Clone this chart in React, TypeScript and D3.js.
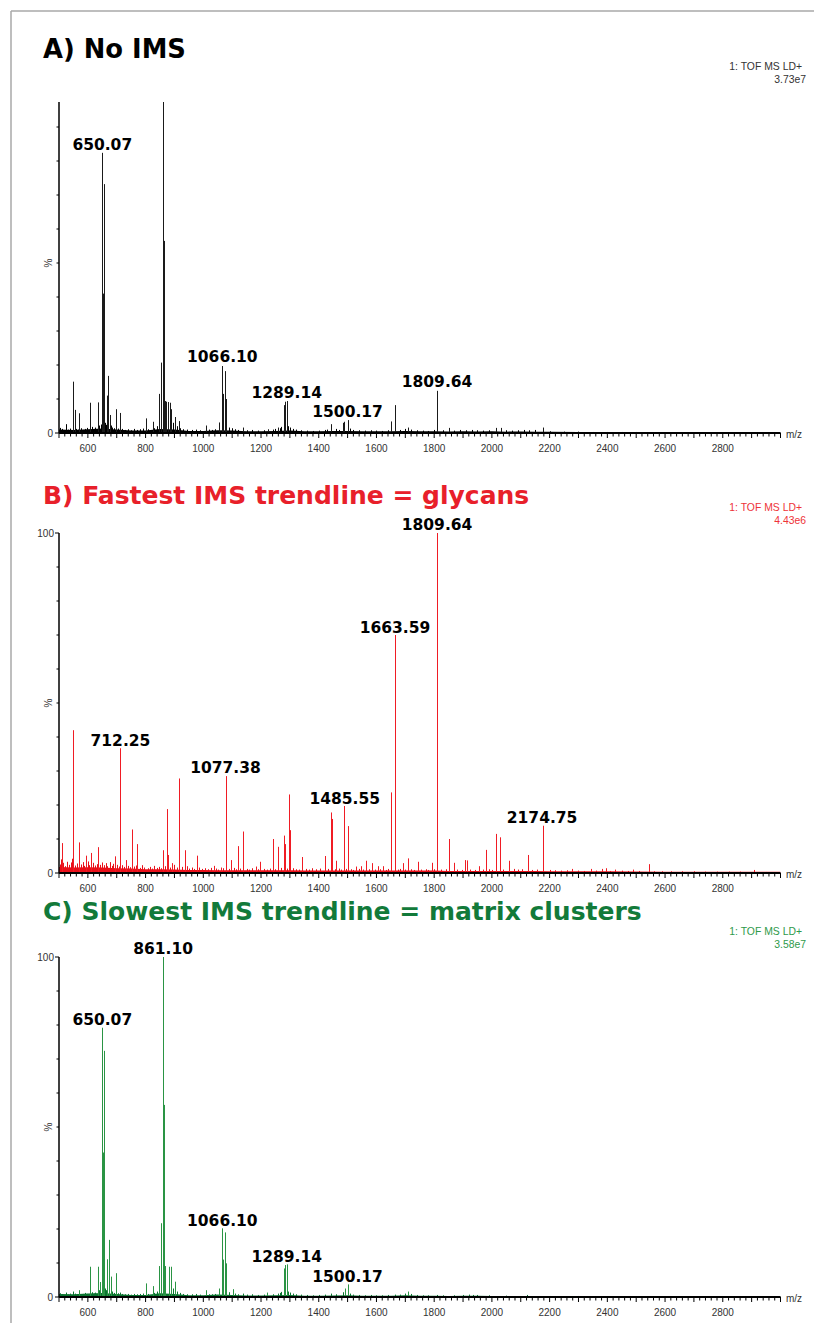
import React from "react";
import * as d3 from "d3";

// ---------- data ----------
const mzDomain = [500, 3000];
const xTickLabels = [600, 800, 1000, 1200, 1400, 1600, 1800, 2000, 2200, 2400, 2600, 2800];
const yTickValues = [0, 10, 20, 30, 40, 50, 60, 70, 80, 90, 100];

const titles = ["A) No IMS", "B) Fastest IMS trendline = glycans", "C) Slowest IMS trendline = matrix clusters"];
const scaleTexts = ["3.73e7", "4.43e6", "3.58e7"];
const instrument = "1: TOF MS LD+";

// [m/z, relative intensity %]
const peaksA: [number, number][] = [
  [549, 15.1], [554, 6.8], [570, 5.8], [606, 8.9], [609, 2.9], [634, 9], [650, 82.4], [652, 41], [655, 73.2], [656, 30],
  [666, 11], [671, 16.8], [675, 5.3], [697, 7], [713, 5.9], [802, 4.3], [825, 3.3], [846, 11.5], [854, 20.7],
  [861, 100], [863, 56.5], [868, 9.4], [872, 9.2], [877, 9.1], [883, 8.9], [889, 7], [903, 4.7], [916, 3.5],
  [1008, 2.2], [1053, 3.1], [1066, 19.7], [1067, 11.5], [1074, 18.2], [1080, 10], [1137, 1.6], [1224, 1.1], [1258, 1.6],
  [1279, 8.2], [1284, 9.2], [1289, 9.4], [1443, 2.6], [1484, 3], [1488, 3.3], [1501, 3.8], [1650, 3.4], [1664, 8.2],
  [1710, 1.6], [1810, 12.4], [1811, 4], [1853, 1.5], [2015, 1.5], [2030, 1.5], [2177, 1.6],
];
const noiseA: [number, number][] = [
  [505, 1.5], [512, 1.2], [518, 0.8], [523, 2.6], [530, 1], [537, 1.3], [542, 0.9], [560, 1.2], [565, 1], [577, 1.4],
  [583, 0.9], [590, 1.2], [596, 1.5], [615, 1.8], [620, 1.2], [625, 1.6], [640, 2.2], [645, 2.5], [660, 3], [662, 2.4],
  [680, 2.2], [685, 1.6], [690, 1.4], [705, 1.3], [720, 1.2], [730, 0.9], [740, 1.1], [750, 0.8], [760, 1.2], [770, 0.9],
  [780, 1.1], [790, 1.3], [810, 1.1], [830, 1.4], [838, 2], [895, 3], [910, 2], [920, 1.4], [930, 1.1], [945, 1],
  [960, 0.9], [975, 1], [990, 0.8], [1020, 1], [1030, 0.9], [1040, 1.1], [1090, 1.6], [1100, 1.4], [1110, 1.1],
  [1120, 0.9], [1150, 0.8], [1170, 0.9], [1190, 0.7], [1210, 0.8], [1240, 1], [1250, 1.2], [1265, 1.4], [1270, 1.8],
  [1295, 2], [1300, 1.6], [1310, 1.2], [1320, 1], [1340, 0.8], [1360, 0.7], [1380, 0.6], [1400, 0.7], [1420, 0.9],
  [1430, 1], [1460, 1.2], [1470, 0.9], [1510, 1.3], [1520, 0.9], [1540, 0.8], [1560, 0.7], [1580, 0.8], [1600, 0.7],
  [1620, 0.6], [1640, 0.8], [1680, 0.9], [1700, 1.2], [1720, 1], [1740, 0.8], [1760, 0.7], [1780, 0.6], [1800, 0.9],
  [1830, 0.8], [1870, 0.7], [1890, 0.9], [1910, 0.8], [1930, 0.9], [1950, 0.8], [1970, 0.7], [1990, 0.8], [2050, 0.8],
  [2070, 0.7], [2090, 0.8], [2110, 0.9], [2130, 0.8], [2150, 0.9], [2200, 0.5], [2250, 0.4], [2300, 0.4], [2350, 0.3],
  [2400, 0.3], [2450, 0.3], [2500, 0.3],
];
const floorA: [number, number][] = [
  [500, 1.0], [550, 0.9], [600, 1.1], [650, 1.3], [700, 1.0], [750, 0.7], [800, 0.7], [850, 1.2], [900, 1.0], [950, 0.6],
  [1000, 0.6], [1050, 0.8], [1100, 0.7], [1150, 0.5], [1200, 0.5], [1250, 0.6], [1300, 0.7], [1350, 0.5], [1400, 0.5],
  [1450, 0.6], [1500, 0.6], [1550, 0.5], [1600, 0.5], [1650, 0.5], [1700, 0.6], [1750, 0.5], [1800, 0.5], [1850, 0.45],
  [1900, 0.5], [1950, 0.45], [2000, 0.5], [2050, 0.4], [2100, 0.45], [2150, 0.4], [2200, 0.35], [2300, 0.3], [2400, 0.3],
  [2500, 0.3], [2600, 0.25], [2700, 0.25], [2800, 0.25], [2900, 0.25], [3000, 0.25],
];

const peaksB: [number, number][] = [
  [509, 8.8], [549, 42], [569, 9], [594, 5.1], [612, 5.9], [636, 7.6], [695, 4.9], [713, 36.7], [731, 3.8], [752, 12.8],
  [771, 8.5], [861, 6.7], [875, 18.8], [877, 5.3], [892, 2.9], [917, 27.8], [935, 6.7], [977, 5.1], [1036, 2.1],
  [1060, 1.6], [1079, 28.5], [1097, 3.8], [1119, 7.9], [1138, 12.2], [1181, 1.9], [1198, 3.3], [1240, 10], [1260, 7.7],
  [1281, 11], [1283, 8.5], [1298, 23.1], [1301, 12.6], [1343, 4.7], [1420, 5], [1442, 17.8], [1445, 15.9], [1461, 3.6],
  [1486, 19.7], [1503, 13.8], [1528, 1.9], [1547, 2], [1565, 3.6], [1584, 2.9], [1605, 2], [1622, 2], [1649, 23.7],
  [1650, 9.7], [1664, 70], [1665, 49.4], [1692, 2.9], [1710, 4.3], [1743, 3.3], [1792, 3], [1810, 100], [1811, 31],
  [1853, 10], [1868, 3], [1908, 3.8], [1914, 3.7], [1957, 2], [1978, 6.8], [2013, 11.5], [2015, 9.5], [2029, 10.5],
  [2058, 3.6], [2125, 5.3], [2177, 13.9], [2178, 7], [2277, 1.2], [2344, 1.2], [2381, 1.2], [2396, 1.4], [2425, 1],
  [2488, 1], [2543, 2.6], [2908, 0.9],
];
const noiseB: [number, number][] = [
  [503, 2.5], [507, 4], [515, 3], [521, 2], [528, 3.3], [535, 2.4], [541, 3.1], [545, 4.2], [557, 2.2], [562, 2.8],
  [576, 2.5], [582, 3.2], [588, 2.1], [600, 3.4], [605, 2.3], [618, 3], [624, 2.2], [630, 2.6], [642, 2.4], [648, 3.1],
  [655, 2.3], [662, 2.9], [668, 2], [675, 3.2], [682, 2.1], [688, 2.7], [702, 2.4], [708, 1.9], [720, 2.3], [726, 1.8],
  [740, 2.1], [745, 1.7], [760, 1.9], [766, 2.2], [780, 1.5], [788, 2.3], [795, 1.6], [808, 1.4], [815, 1.8], [822, 1.3],
  [830, 2.1], [840, 1.5], [848, 1.8], [855, 1.4], [868, 2], [885, 1.6], [900, 2.4], [908, 1.6], [925, 1.8], [945, 2],
  [952, 1.3], [960, 1.6], [968, 1.2], [985, 1.6], [995, 1.2], [1005, 1.4], [1015, 1.1], [1025, 1.5], [1045, 1.3],
  [1052, 1], [1068, 1.4], [1088, 1.2], [1105, 1.5], [1112, 1.1], [1128, 1.3], [1150, 1.2], [1160, 1], [1170, 1.4],
  [1188, 1.1], [1210, 1.2], [1220, 1], [1230, 1.3], [1250, 1.1], [1270, 1.5], [1290, 1.3], [1310, 1.4], [1320, 1.1],
  [1330, 1], [1355, 1.2], [1365, 1], [1378, 1.4], [1392, 1.1], [1405, 1.3], [1432, 1.2], [1455, 1.1], [1470, 1.3],
  [1478, 1], [1495, 1.2], [1512, 1.1], [1520, 0.9], [1538, 1.2], [1555, 1], [1575, 1.1], [1595, 1], [1612, 1.1],
  [1632, 0.9], [1640, 1.2], [1675, 1], [1682, 1.2], [1700, 1], [1720, 1.1], [1730, 0.9], [1755, 1], [1770, 1.1],
  [1780, 0.9], [1800, 1.1], [1825, 1], [1840, 1.1], [1880, 1], [1895, 0.9], [1925, 1], [1940, 0.9], [1968, 1],
  [1990, 1.1], [2000, 0.9], [2040, 1], [2075, 1.2], [2090, 1], [2105, 1.1], [2140, 0.9], [2155, 1], [2200, 0.9],
  [2220, 0.8], [2240, 0.7], [2260, 0.8], [2300, 0.7], [2320, 0.6], [2360, 0.7], [2410, 0.6], [2450, 0.7], [2470, 0.6],
  [2510, 0.6], [2560, 0.5], [2590, 0.5], [2620, 0.5], [2660, 0.5], [2700, 0.5], [2740, 0.4], [2780, 0.4], [2820, 0.4],
  [2860, 0.4], [2950, 0.3],
];
const floorB: [number, number][] = [
  [500, 1.8], [550, 1.6], [600, 1.7], [650, 1.6], [700, 1.4], [750, 1.3], [800, 1.1], [850, 1.1], [900, 1.0], [950, 0.9],
  [1000, 0.9], [1050, 0.8], [1100, 0.8], [1150, 0.8], [1200, 0.8], [1250, 0.8], [1300, 0.8], [1350, 0.7], [1400, 0.7],
  [1450, 0.7], [1500, 0.7], [1550, 0.7], [1600, 0.7], [1650, 0.7], [1700, 0.7], [1750, 0.7], [1800, 0.7], [1850, 0.6],
  [1900, 0.6], [1950, 0.6], [2000, 0.6], [2050, 0.6], [2100, 0.6], [2150, 0.6], [2200, 0.5], [2300, 0.5], [2400, 0.5],
  [2500, 0.45], [2600, 0.4], [2700, 0.4], [2800, 0.4], [2900, 0.35], [3000, 0.35],
];

const peaksC: [number, number][] = [
  [570, 2], [606, 8.9], [634, 8.9], [643, 4.4], [650, 79.2], [651, 42.5], [655, 72.4], [656, 30], [666, 11.1],
  [672, 16.8], [679, 6], [697, 7], [802, 4], [824, 3.2], [846, 9.1], [855, 21.7], [861, 100], [863, 56.5], [868, 9.1],
  [880, 8.9], [887, 8.9], [903, 4.5], [1008, 2], [1053, 2.5], [1066, 20.2], [1067, 11], [1074, 19], [1080, 9.9],
  [1103, 2.3], [1222, 1.3], [1279, 8.4], [1284, 9.4], [1289, 9.6], [1490, 2.5], [1501, 3.7], [1711, 1.6],
];
const noiseC: [number, number][] = [
  [505, 1.1], [512, 0.8], [523, 1.3], [530, 0.7], [537, 1], [549, 1.6], [555, 1], [562, 0.8], [583, 0.9], [590, 1.2],
  [596, 0.9], [615, 1.4], [620, 1], [625, 1.3], [640, 2], [660, 2.5], [662, 2], [685, 1.6], [690, 1.2], [705, 1.1],
  [713, 1.3], [720, 0.9], [730, 0.8], [740, 0.9], [750, 0.7], [760, 0.9], [770, 0.8], [780, 0.9], [790, 1], [810, 0.9],
  [830, 1.2], [838, 1.6], [895, 2.5], [910, 1.6], [920, 1.2], [930, 0.9], [945, 0.8], [960, 0.8], [975, 0.9], [990, 0.7],
  [1020, 0.8], [1030, 0.8], [1040, 0.9], [1090, 1.4], [1110, 1], [1120, 0.8], [1137, 1], [1150, 0.7], [1170, 0.8],
  [1190, 0.6], [1210, 0.7], [1240, 0.8], [1258, 1], [1265, 1.2], [1270, 1.5], [1295, 1.6], [1300, 1.3], [1310, 1],
  [1320, 0.8], [1340, 0.7], [1360, 0.6], [1380, 0.5], [1400, 0.6], [1420, 0.7], [1443, 1], [1460, 0.8], [1484, 1.4],
  [1510, 1], [1520, 0.7], [1540, 0.6], [1560, 0.5], [1580, 0.6], [1600, 0.5], [1620, 0.5], [1640, 0.6], [1664, 0.7],
  [1680, 0.7], [1700, 1], [1720, 0.9], [1740, 0.6], [1760, 0.5], [1780, 0.5], [1810, 0.6], [1830, 0.5], [1870, 0.5],
  [1900, 0.6], [1920, 0.7], [1935, 0.6], [1950, 0.6], [1990, 0.5], [2050, 0.4], [2120, 0.6], [2200, 0.3], [2300, 0.3],
];
const floorC: [number, number][] = [
  [500, 0.9], [550, 0.8], [600, 1.0], [650, 1.2], [700, 0.9], [750, 0.6], [800, 0.6], [850, 1.1], [900, 0.9], [950, 0.5],
  [1000, 0.5], [1050, 0.7], [1100, 0.6], [1150, 0.45], [1200, 0.45], [1250, 0.5], [1300, 0.6], [1350, 0.4], [1400, 0.4],
  [1450, 0.45], [1500, 0.5], [1550, 0.4], [1600, 0.35], [1650, 0.35], [1700, 0.5], [1750, 0.4], [1800, 0.35], [1850, 0.3],
  [1900, 0.35], [1950, 0.35], [2000, 0.3], [2100, 0.3], [2200, 0.25], [2400, 0.25], [2600, 0.2], [2800, 0.2], [3000, 0.2],
];

// label text, m/z anchor used for x-position, height (%) of its baseline
const labelsA: [string, number][] = [["650.07", 650], ["1066.10", 1066], ["1289.14", 1289], ["1500.17", 1500], ["1809.64", 1810]];
const labelHeightsA = [83.2, 20.9, 10.3, 4.7, 13.5];
const labelsB: [string, number][] = [["712.25", 713], ["1077.38", 1077], ["1485.55", 1490], ["1663.59", 1664], ["1809.64", 1810], ["2174.75", 2174]];
const labelHeightsB = [37.4, 29.4, 20.3, 70.6, 100.9, 14.7];
const labelsC: [string, number][] = [["861.10", 861], ["650.07", 650], ["1066.10", 1066], ["1289.14", 1289], ["1500.17", 1500]];
const labelHeightsC = [100.9, 80, 20.9, 10.3, 4.4];

// ---------- layout ----------
const W = 814;
const H = 1325;
const X0 = 59;
const X1 = 780.5;

type Panel = {
  title: string; titleColor: string; titleY: number; titleSize: number;
  base: number; full: number; axisTop: number; show100: boolean;
  peaks: [number, number][]; noise: [number, number][]; floor: [number, number][];
  labels: [string, number][]; labelHeights: number[];
  color: string; noiseColor: string; infoColor: string; infoY: number; scaleText: string;
};

const panels: Panel[] = [
  {
    title: titles[0], titleColor: "#000", titleY: 58, titleSize: 25.8, base: 433, full: 93, axisTop: 102, show100: false,
    peaks: peaksA, noise: noiseA, floor: floorA, labels: labelsA, labelHeights: labelHeightsA,
    color: "#1a1a1a", noiseColor: "#000", infoColor: "#333", infoY: 70, scaleText: scaleTexts[0],
  },
  {
    title: titles[1], titleColor: "#e8202a", titleY: 504, titleSize: 25, base: 873, full: 533, axisTop: 533, show100: true,
    peaks: peaksB, noise: noiseB, floor: floorB, labels: labelsB, labelHeights: labelHeightsB,
    color: "#f01c24", noiseColor: "#e8101a", infoColor: "#ee3338", infoY: 511, scaleText: scaleTexts[1],
  },
  {
    title: titles[2], titleColor: "#127a3a", titleY: 920, titleSize: 25, base: 1297, full: 957, axisTop: 957, show100: true,
    peaks: peaksC, noise: noiseC, floor: floorC, labels: labelsC, labelHeights: labelHeightsC,
    color: "#2a9444", noiseColor: "#0b7530", infoColor: "#2e9a4a", infoY: 935, scaleText: scaleTexts[2],
  },
];

const x = d3.scaleLinear().domain(mzDomain).range([X0, X1]);
const minorTicks = d3.range(mzDomain[0], mzDomain[1] + 1, 20);

function PanelView({ p, i }: { p: Panel; i: number }) {
  const y = d3.scaleLinear().domain([0, 100]).range([p.base, p.full]);
  const clipId = `clip${i}`;
  const axisFont = "'Liberation Sans', Arial, sans-serif";
  const boldFont = "'DejaVu Sans', Verdana, sans-serif";
  const floorArea = d3.area<[number, number]>()
    .x((d) => x(d[0]))
    .y0(p.base)
    .y1((d) => y(d[1]))(p.floor) || "";
  return (
    <g>
      <defs>
        <clipPath id={clipId}>
          <rect x={X0} y={p.axisTop} width={X1 - X0} height={p.base - p.axisTop + 1} />
        </clipPath>
      </defs>
      <text x={43} y={p.titleY} fontFamily={boldFont} fontWeight="bold" fontSize={p.titleSize} fill={p.titleColor}>
        {p.title}
      </text>
      <text x={802} y={p.infoY} textAnchor="end" fontFamily={axisFont} fontSize={10.4} fill={p.infoColor}>
        {instrument}
      </text>
      <text x={806} y={p.infoY + 12.5} textAnchor="end" fontFamily={axisFont} fontSize={10.4} fill={p.infoColor}>
        {p.scaleText}
      </text>

      <g clipPath={`url(#${clipId})`}>
        <path d={floorArea} fill={p.noiseColor} />
        {p.noise.map(([m, v], k) => (
          <line key={`n${k}`} x1={Math.round(x(m)) + 0.5} x2={Math.round(x(m)) + 0.5} y1={p.base} y2={y(v)}
            stroke={p.noiseColor} strokeWidth={1} />
        ))}
        {p.peaks.map(([m, v], k) => (
          <line key={`p${k}`} x1={Math.round(x(m)) + 0.5} x2={Math.round(x(m)) + 0.5} y1={p.base} y2={y(v)}
            stroke={p.color} strokeWidth={1} />
        ))}
      </g>

      {/* y axis */}
      <line x1={X0} x2={X0} y1={p.axisTop} y2={p.base} stroke="#000" strokeWidth={1.5} />
      {yTickValues.filter((t) => y(t) >= p.axisTop - 0.5).map((t) => (
        <line key={`yt${t}`} x1={X0 - (t === 0 || t === 100 ? 4 : 2.5)} x2={X0} y1={y(t)} y2={y(t)} stroke="#000" strokeWidth={1} />
      ))}
      <text x={53} y={p.base + 3.5} textAnchor="end" fontFamily={axisFont} fontSize={10} fill="#333">0</text>
      {p.show100 && (
        <text x={54} y={p.full + 3.5} textAnchor="end" fontFamily={axisFont} fontSize={10} fill="#333">100</text>
      )}
      <text transform={`translate(52,${y(50)}) rotate(-90)`} textAnchor="middle" fontFamily={axisFont} fontSize={10} fill="#333">%</text>

      {/* x axis */}
      <line x1={X0} x2={X1} y1={p.base} y2={p.base} stroke="#000" strokeWidth={2} />
      {minorTicks.map((t) => (
        <line key={`xt${t}`} x1={x(t)} x2={x(t)} y1={p.base} y2={p.base + (t % 100 === 0 ? 5 : 3.5)} stroke="#000" strokeWidth={1} />
      ))}
      {xTickLabels.map((t) => (
        <text key={`xl${t}`} x={x(t)} y={p.base + 18.5} textAnchor="middle" fontFamily={axisFont} fontSize={10} fill="#333">
          {t}
        </text>
      ))}
      <text x={786} y={p.base + 5} fontFamily={axisFont} fontSize={10} fill="#333">m/z</text>

      {/* peak labels */}
      {p.labels.map(([txt, m], k) => (
        <text key={`lb${k}`} x={x(m)} y={y(p.labelHeights[k])} textAnchor="middle" fontFamily={boldFont}
          fontWeight="bold" fontSize={15.5} fill="#000">
          {txt}
        </text>
      ))}
    </g>
  );
}

export default function App() {
  return (
    <svg width={W} height={H} viewBox={`0 0 ${W} ${H}`}
      style={{ position: "absolute", left: 0, top: 0, background: "#fff", display: "block" }}>
      <rect x={0} y={0} width={W} height={H} fill="#fff" />
      <line x1={11} x2={W} y1={11} y2={11} stroke="#a8a8a8" strokeWidth={1.5} />
      <line x1={11} x2={11} y1={11} y2={1323} stroke="#a8a8a8" strokeWidth={1.5} />
      {panels.map((p, i) => (
        <PanelView key={i} p={p} i={i} />
      ))}
    </svg>
  );
}
